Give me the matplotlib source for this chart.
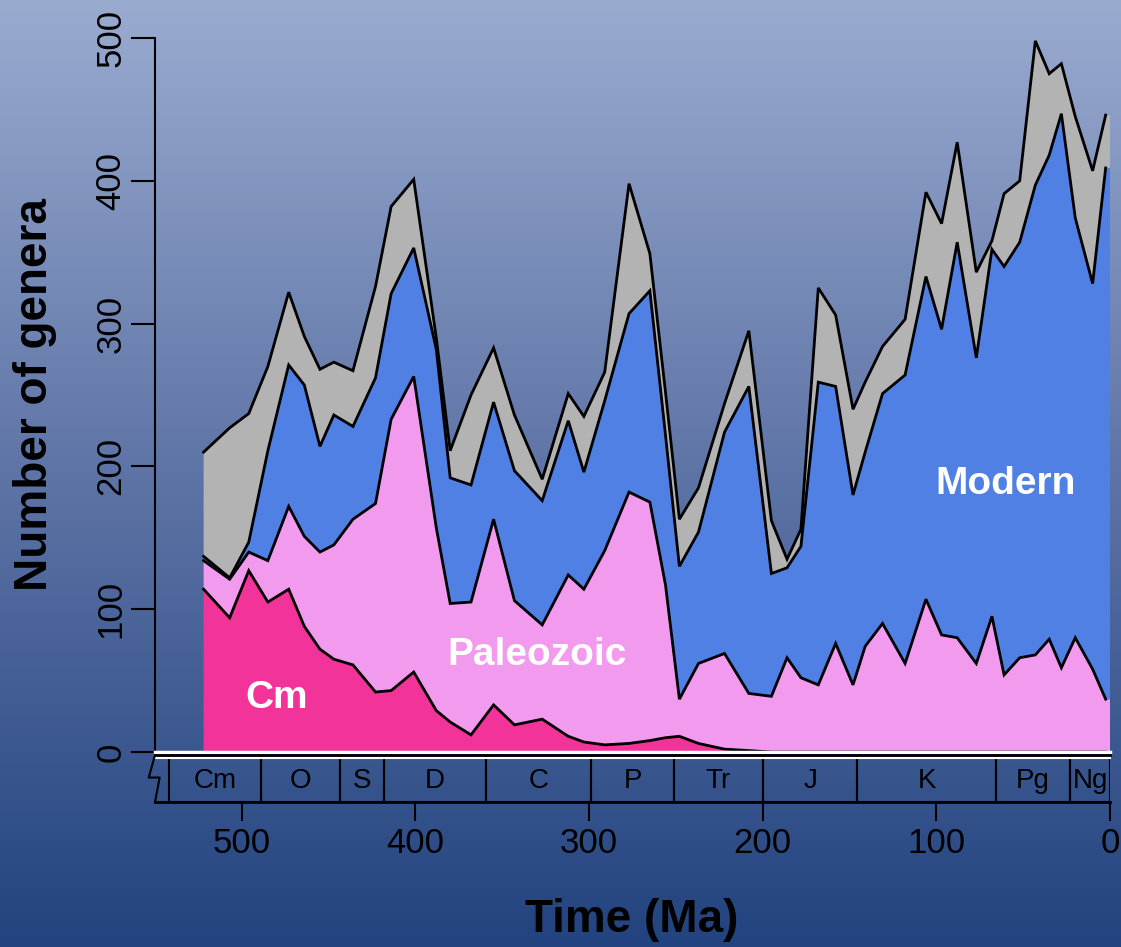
import matplotlib
matplotlib.use("Agg")
import matplotlib.pyplot as plt
import numpy as np
from matplotlib.colors import LinearSegmentedColormap

plt.rcParams['font.family'] = ['Liberation Sans', 'DejaVu Sans']

# stage midpoints (Ma) and genus counts per faunal group
age = np.array([522, 507, 496, 485, 473, 464, 455, 447, 436, 423,
                414, 401, 388, 380, 368, 355, 343, 327, 312, 303,
                291, 277, 265, 256, 248, 237, 222, 208, 195, 186,
                178, 168, 158, 148, 141, 131, 118, 106, 97, 88,
                77, 68, 61, 52, 43, 35, 28, 20, 10, 2.5])
cambrian = np.array([114, 94, 127, 105, 114, 88, 72, 65, 61, 42,
                     43, 56, 29, 21, 12, 33, 19, 23, 11, 7,
                     5, 6, 8, 10, 11, 6, 2, 1, 0, 0,
                     0, 0, 0, 0, 0, 0, 0, 0, 0, 0,
                     0, 0, 0, 0, 0, 0, 0, 0, 0, 0])
paleozoic = np.array([20, 27, 13, 29, 58, 63, 68, 80, 102, 132,
                      190, 207, 128, 83, 93, 130, 87, 66, 113, 107,
                      136, 176, 167, 107, 26, 56, 67, 40, 39, 66,
                      52, 47, 76, 47, 74, 90, 62, 107, 82, 80,
                      62, 95, 54, 66, 68, 79, 59, 80, 58, 37])
modern = np.array([3, 1, 7, 77, 99, 106, 74, 91, 65, 88,
                   88, 90, 125, 88, 82, 82, 91, 87, 108, 82,
                   105, 125, 148, 105, 93, 92, 155, 215, 86, 63,
                   92, 212, 180, 133, 136, 161, 202, 226, 214, 277,
                   214, 257, 286, 291, 329, 339, 388, 294, 270, 372])
other = np.array([73, 105, 90, 59, 51, 34, 54, 37, 39, 64,
                  61, 48, 8, 19, 63, 38, 39, 15, 19, 39,
                  20, 91, 26, 30, 33, 31, 20, 39, 37, 6,
                  12, 66, 50, 60, 49, 33, 39, 59, 74, 70,
                  60, 6, 51, 43, 101, 57, 35, 71, 79, 37])

periods = ['Cm', 'O', 'S', 'D', 'C', 'P', 'Tr', 'J', 'K', 'Pg', 'Ng']
period_base = [542, 489, 443.7, 418, 359.5, 299, 251, 200, 145.5, 65.5, 23]
period_top = period_base[1:] + [0]

colors = ['#F23399', '#F29AEE', '#5080E4', '#B3B3B3']

W, H = 1121, 947
fig = plt.figure(figsize=(W / 100, H / 100), dpi=100)


def px(x0, y0, x1, y1):
    return [x0 / W, 1 - y1 / H, (x1 - x0) / W, (y1 - y0) / H]


# background gradient
bg = fig.add_axes([0, 0, 1, 1], zorder=-10)
bg_cmap = LinearSegmentedColormap.from_list('bg', ['#9AABD0', '#5E74A6', '#22437F'])
bg.imshow(np.linspace(0, 1, 256).reshape(-1, 1), aspect='auto', cmap=bg_cmap,
          extent=[0, 1, 0, 1])
bg.axis('off')

# main panel
ax = fig.add_axes(px(155, 38, 1110, 752))
ax.patch.set_visible(False)
ax.set_xlim(550, 0)
ax.set_ylim(0, 500)

age_fill = np.append(age, 0)
layers = [np.append(v, v[-1]) for v in (cambrian, paleozoic, modern, other)]
ax.stackplot(age_fill, *layers, colors=colors, lw=0)
tops = np.cumsum([cambrian, paleozoic, modern, other], axis=0)
for t in tops:
    ax.plot(age, t, color='k', lw=2, solid_joinstyle='miter')

ax.axhline(0, color='white', lw=2.5, clip_on=False, zorder=5)

for s in ['top', 'right', 'bottom']:
    ax.spines[s].set_visible(False)
ax.spines['left'].set_bounds(0, 500)
ax.spines['left'].set_linewidth(1.5)
ax.set_xticks([])
ax.set_yticks(range(0, 501, 100))
ax.tick_params(axis='y', length=17, width=1.5, labelsize=25, pad=3)
for lab in ax.get_yticklabels():
    lab.set_rotation(90)
    lab.set_va('center')

ax.text(480, 38, 'Cm', color='white', fontsize=28, fontweight='bold',
        ha='center', va='center')
ax.text(330, 68, 'Paleozoic', color='white', fontsize=28, fontweight='bold',
        ha='center', va='center')
ax.text(60, 188, 'Modern', color='white', fontsize=28, fontweight='bold',
        ha='center', va='center')

# geologic time scale
ts = fig.add_axes(px(155, 755, 1110, 802))
ts.patch.set_visible(False)
ts.set_xlim(550, 0)
ts.set_ylim(0, 1)
widths = np.array(period_base) - np.array(period_top)
ts.bar(period_top, 1, width=widths, align='edge', fill=False,
       edgecolor='k', lw=1.5)
for name, b, t in zip(periods, period_base, period_top):
    ts.text((b + t) / 2, 0.45, name, ha='center', va='center', fontsize=20)
ts.axhline(1, color='k', lw=2, clip_on=False)
ts.axhline(0.93, color='white', lw=1.5, clip_on=False)
ts.axhline(0, color='k', lw=2, clip_on=False)
ts.plot([550, 553.6, 547.3, 550], [1, 0.52, 0.52, 0], color='k', lw=1.5,
        clip_on=False)
for s in ts.spines.values():
    s.set_visible(False)
ts.set_yticks([])
ts.set_xticks(range(500, -1, -100))
ts.tick_params(axis='x', length=14, width=1.5, labelsize=25, pad=4)

fig.text(632 / W, 1 - 920 / H, 'Time (Ma)', ha='center', va='center',
         fontsize=33, fontweight='bold')
fig.text(35 / W, 1 - 395 / H, 'Number of genera', ha='center', va='center',
         rotation=90, fontsize=33, fontweight='bold')

fig.savefig('out.png', dpi=100)
